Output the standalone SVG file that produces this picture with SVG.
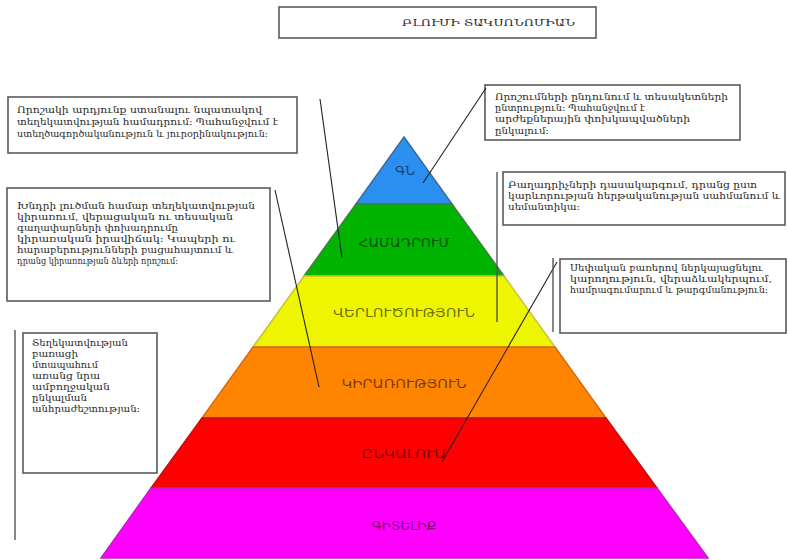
<svg xmlns="http://www.w3.org/2000/svg" width="788" height="560" viewBox="0 0 788 560">
<style>
.box{fill:#fff;stroke:#5a5a5a;stroke-width:1.6}
.t{font-family:"DejaVu Serif","DejaVu Sans",serif;font-size:9.5px;fill:#2a2a2a}
.s{font-size:8.8px}
.lbl{font-family:"DejaVu Sans",sans-serif;font-size:13px;fill:#000;fill-opacity:0.55;text-anchor:middle}
.band{stroke-width:1.5}
.conn{stroke:#222;stroke-width:1.1;fill:none}
.vl{stroke:#555;stroke-width:1.4;fill:none}
</style>
<rect width="788" height="560" fill="#fff"/>
<g id="title">
<rect class="box" x="279" y="7" width="317" height="31"/>
<text class="t" x="402" y="26" font-size="12" textLength="173" lengthAdjust="spacingAndGlyphs">ԲԼՈՒՄԻ ՏԱԿՍՈՆՈՄԻԱՆ</text>
</g>
<g id="pyramid">
<g id="level-gn"><polygon class="band" points="404,137 452,204 356,204" fill="#2B8FF0" stroke="#3a6b9a"/><text class="lbl" x="405" y="175" textLength="20" lengthAdjust="spacingAndGlyphs">ԳՆ</text></g>
<g id="level-hamadrum"><polygon class="band" points="356,204 452,204 504,276 304,276" fill="#00B400" stroke="#3f7f3f"/><text class="lbl" x="404" y="247" textLength="91" lengthAdjust="spacingAndGlyphs">ՀԱՄԱԴՐՈՒՄ</text></g>
<g id="level-verlucutyun"><polygon class="band" points="304,276 504,276 555,347 253,347" fill="#EEF500" stroke="#c9c23a"/><text class="lbl" x="404" y="317" textLength="142" lengthAdjust="spacingAndGlyphs">ՎԵՐԼՈՒԾՈՒԹՅՈՒՆ</text></g>
<g id="level-kirarutyun"><polygon class="band" points="253,347 555,347 606,418 202,418" fill="#FF8500" stroke="#d46c10"/><text class="lbl" x="404" y="388" textLength="125" lengthAdjust="spacingAndGlyphs">ԿԻՐԱՌՈՒԹՅՈՒՆ</text></g>
<g id="level-enkalum"><polygon class="band" points="202,418 606,418 657,488 151,488" fill="#FF0000" stroke="#c21010"/><text class="lbl" x="404" y="458" textLength="85" lengthAdjust="spacingAndGlyphs">ԸՆԿԱԼՈՒՄ</text></g>
<g id="level-giteliq"><polygon class="band" points="151,488 657,488 708,558 101,558" fill="#FF00FF" stroke="#c020c0"/><text class="lbl" x="404" y="530" textLength="65" lengthAdjust="spacingAndGlyphs">ԳԻՏԵԼԻՔ</text></g>
</g>
<g id="box-synthesis">
<rect class="box" x="8" y="97" width="289" height="56"/>
<text class="t" x="17" y="113" textLength="245" lengthAdjust="spacingAndGlyphs">Որոշակի արդյունք ստանալու նպատակով</text>
<text class="t" x="17" y="125" textLength="261" lengthAdjust="spacingAndGlyphs">տեղեկատվության համադրում: Պահանջվում է</text>
<text class="t" x="17" y="137" textLength="251" lengthAdjust="spacingAndGlyphs">ստեղծագործականություն և յուրօրինակություն:</text>
</g>
<g id="box-evaluation">
<rect class="box" x="485" y="85" width="255" height="55"/>
<text class="t" x="495" y="100" textLength="233" lengthAdjust="spacingAndGlyphs">Որոշումների ընդունում և տեսակետների</text>
<text class="t" x="495" y="111" textLength="150" lengthAdjust="spacingAndGlyphs">ընտրություն: Պահանջվում է</text>
<text class="t" x="495" y="122" textLength="195" lengthAdjust="spacingAndGlyphs">արժեքներային փոխկապվածների</text>
<text class="t" x="495" y="134" textLength="54" lengthAdjust="spacingAndGlyphs">ընկալում:</text>
</g>
<g id="box-application">
<rect class="box" x="7" y="188" width="263" height="113"/>
<text class="t s" x="17" y="209" textLength="238" lengthAdjust="spacingAndGlyphs">Խնդրի լուծման համար տեղեկատվության</text>
<text class="t s" x="17" y="220" textLength="216" lengthAdjust="spacingAndGlyphs">կիրառում, վերացական ու տեսական</text>
<text class="t s" x="17" y="231" textLength="161" lengthAdjust="spacingAndGlyphs">գաղափարների փոխադրումը</text>
<text class="t s" x="17" y="242" textLength="218" lengthAdjust="spacingAndGlyphs">կիրառական իրավիճակ: Կապերի ու</text>
<text class="t s" x="17" y="253" textLength="216" lengthAdjust="spacingAndGlyphs">հարաբերությունների բացահայտում և</text>
<text class="t s" x="17" y="264" textLength="161" lengthAdjust="spacingAndGlyphs">դրանց կիրառության ձևերի որոշում:</text>
</g>
<g id="box-analysis">
<rect class="box" x="503" y="172" width="282" height="53"/>
<text class="t" x="508" y="188" textLength="249" lengthAdjust="spacingAndGlyphs">Բաղադրիչների դասակարգում, դրանց ըստ</text>
<text class="t" x="508" y="199" textLength="272" lengthAdjust="spacingAndGlyphs">կարևորության հերթականության սահմանում և</text>
<text class="t" x="508" y="210" textLength="72" lengthAdjust="spacingAndGlyphs">սեմանտիկա:</text>
</g>
<g id="box-comprehension">
<rect class="box" x="560" y="259" width="226" height="74"/>
<text class="t" x="570" y="271" textLength="193" lengthAdjust="spacingAndGlyphs">Սեփական բառերով ներկայացնելու</text>
<text class="t" x="570" y="282" textLength="202" lengthAdjust="spacingAndGlyphs">կարողություն, վերաձևակերպում,</text>
<text class="t" x="570" y="293" textLength="198" lengthAdjust="spacingAndGlyphs">համրագումարում և թարգմանություն:</text>
</g>
<g id="box-knowledge">
<rect class="box" x="23" y="333" width="134" height="140"/>
<text class="t s" x="32" y="346" textLength="96" lengthAdjust="spacingAndGlyphs">Տեղեկատվության</text>
<text class="t s" x="32" y="357" textLength="46" lengthAdjust="spacingAndGlyphs">բառացի</text>
<text class="t s" x="32" y="368" textLength="66" lengthAdjust="spacingAndGlyphs">մտապահում</text>
<text class="t s" x="32" y="379" textLength="68" lengthAdjust="spacingAndGlyphs">առանց նրա</text>
<text class="t s" x="32" y="390" textLength="78" lengthAdjust="spacingAndGlyphs">ամբողջական</text>
<text class="t s" x="32" y="401" textLength="55" lengthAdjust="spacingAndGlyphs">ընկալման</text>
<text class="t s" x="32" y="412" textLength="108" lengthAdjust="spacingAndGlyphs">անհրաժեշտության:</text>
</g>
<g id="connectors">
<line class="conn" x1="320" y1="99" x2="342" y2="258"/>
<line class="conn" x1="486" y1="88" x2="423" y2="183"/>
<line class="conn" x1="275" y1="190" x2="319" y2="387"/>
<line class="conn" x1="557" y1="262" x2="442" y2="462"/>
<line class="vl" x1="497" y1="172" x2="497" y2="322"/>
<line class="vl" x1="553" y1="258" x2="553" y2="332"/>
<line class="vl" x1="15" y1="330" x2="15" y2="540"/>
</g>
</svg>
